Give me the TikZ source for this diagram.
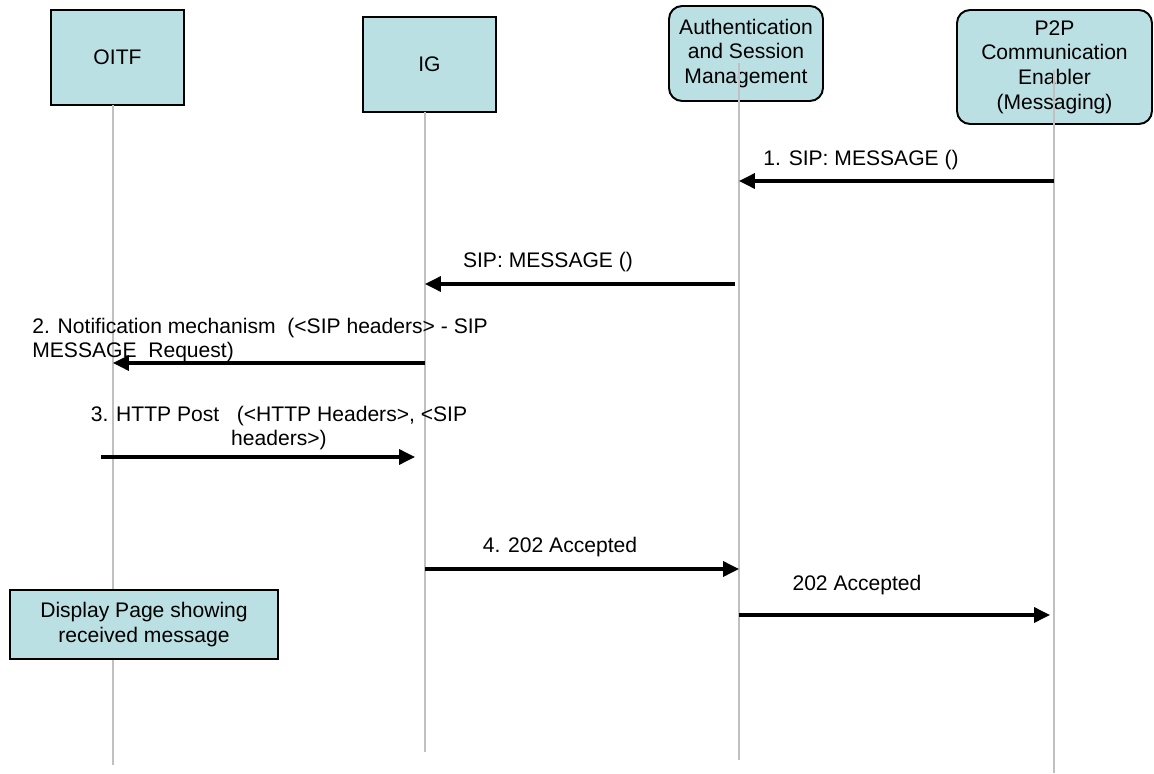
\documentclass[tikz,border=0pt]{standalone}
\usepackage{fontspec}
\setmainfont{Liberation Sans}
\usepackage{tikz}
\usetikzlibrary{arrows.meta}
\definecolor{boxfill}{RGB}{187,224,227}
\definecolor{lifegray}{RGB}{192,192,192}

\begin{document}
\begin{tikzpicture}[x=0.02cm,y=-0.02cm]
\tikzstyle{every node}=[font=\fontsize{12}{14}\selectfont]
\tikzstyle{entity}=[rectangle,draw,fill=boxfill,line width=1.1pt,minimum width=2.66cm,minimum height=1.9cm,align=center,inner sep=1pt]
\tikzstyle{rentity}=[entity,rounded corners=0.26cm]
\tikzstyle{life}=[draw=lifegray,line width=0.85pt]
\tikzstyle{msg}=[line width=1.8pt,-{Triangle[length=9pt,width=8.5pt]}]
\tikzstyle{lbl}=[align=center,inner sep=0pt]
\useasboundingbox (0,0) rectangle (1154,774);
% entities
\node[entity] (oitf) at (117.5,57.5) {OITF};
\node[entity] (ig) at (429.5,64.5) {IG};
\node[rentity,minimum width=3.08cm] (asm) at (746,53.5) {Authentication\\and Session\\Management};
\node[rentity,minimum width=3.9cm,minimum height=2.28cm] (p2p) at (1054.5,67) {P2P\\Communication\\Enabler\\(Messaging)};
% lifelines
\coordinate (oitf-top) at (113,105);
\coordinate (oitf-bot) at (113,765);
\coordinate (ig-top) at (425,112);
\coordinate (ig-bot) at (425,752);
\coordinate (asm-top) at (739,63);
\coordinate (asm-bot) at (739,760);
\coordinate (p2p-top) at (1054,70);
\coordinate (p2p-bot) at (1054,773);
\draw[life] (oitf-top) -- (oitf-bot);
\draw[life] (ig-top) -- (ig-bot);
\draw[life] (asm-top) -- (asm-bot);
\draw[life] (p2p-top) -- (p2p-bot);
% messages
\draw[msg] (p2p-bot |- 0,181) -- (asm-bot |- 0,181);
\node[lbl] (l1) at (861,160) {1. SIP: MESSAGE ()};
\draw[msg, shorten <=0.08cm] (asm-bot |- 0,284) -- (ig-bot |- 0,284);
\node[lbl] (l2) at (548,262) {SIP: MESSAGE ()};
\draw[msg] (ig-bot |- 0,363) -- (oitf-bot |- 0,363);
\node[lbl,anchor=west,align=left] (l3) at (32,340) {2. Notification mechanism~~(<SIP headers> - SIP\\MESSAGE~~Request)};
\draw[msg, shorten <=-0.24cm, shorten >=0.2cm] (oitf-bot |- 0,457) -- (ig-bot |- 0,457);
\node[lbl] (l4) at (279,428) {3. HTTP Post~~~(<HTTP Headers>, <SIP\\headers>)};
\draw[msg] (ig-bot |- 0,569) -- (asm-bot |- 0,569);
\node[lbl] (l5) at (560,547) {4. 202 Accepted};
\draw[msg, shorten >=0.08cm] (asm-bot |- 0,615) -- (p2p-bot |- 0,615);
\node[lbl] (l6) at (857,585) {202 Accepted};
% display
\node[entity,minimum width=5.36cm,minimum height=1.38cm] (disp) at (144,624.5) {Display Page showing\\received message};
\end{tikzpicture}
\end{document}
